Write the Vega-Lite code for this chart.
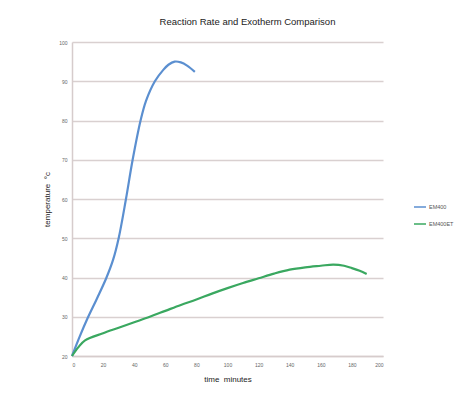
{
  "$schema": "https://vega.github.io/schema/vega-lite/v6.json",
  "width": 311,
  "height": 314,
  "autosize": {"type": "none"},
  "padding": {"left": 72, "top": 42, "right": 89, "bottom": 47},
  "background": "white",
  "title": {
    "text": "Reaction Rate and Exotherm Comparison",
    "fontSize": 9.5,
    "font": "Liberation Sans",
    "fontWeight": "normal",
    "color": "#222222",
    "anchor": "middle",
    "frame": "group",
    "offset": 14,
    "dx": 20
  },
  "data": {
    "values": [
      {"t": 0, "temp": 20, "series": "EM400"},
      {"t": 5, "temp": 25, "series": "EM400"},
      {"t": 10, "temp": 29.6, "series": "EM400"},
      {"t": 16, "temp": 34.6, "series": "EM400"},
      {"t": 22, "temp": 39.8, "series": "EM400"},
      {"t": 26.5, "temp": 44.6, "series": "EM400"},
      {"t": 30, "temp": 50, "series": "EM400"},
      {"t": 34.7, "temp": 60, "series": "EM400"},
      {"t": 39, "temp": 70, "series": "EM400"},
      {"t": 44.1, "temp": 80, "series": "EM400"},
      {"t": 47.6, "temp": 85, "series": "EM400"},
      {"t": 53.3, "temp": 90, "series": "EM400"},
      {"t": 58.7, "temp": 92.9, "series": "EM400"},
      {"t": 62, "temp": 94.2, "series": "EM400"},
      {"t": 66, "temp": 95, "series": "EM400"},
      {"t": 70, "temp": 94.8, "series": "EM400"},
      {"t": 74, "temp": 94, "series": "EM400"},
      {"t": 79, "temp": 92.4, "series": "EM400"},
      {"t": 0, "temp": 20, "series": "EM400ET"},
      {"t": 4, "temp": 22.2, "series": "EM400ET"},
      {"t": 8.4, "temp": 24, "series": "EM400ET"},
      {"t": 20, "temp": 25.8, "series": "EM400ET"},
      {"t": 30, "temp": 27.2, "series": "EM400ET"},
      {"t": 40, "temp": 28.6, "series": "EM400ET"},
      {"t": 50, "temp": 30, "series": "EM400ET"},
      {"t": 60, "temp": 31.5, "series": "EM400ET"},
      {"t": 70, "temp": 33, "series": "EM400ET"},
      {"t": 80, "temp": 34.4, "series": "EM400ET"},
      {"t": 90, "temp": 35.9, "series": "EM400ET"},
      {"t": 100, "temp": 37.3, "series": "EM400ET"},
      {"t": 110, "temp": 38.6, "series": "EM400ET"},
      {"t": 120, "temp": 39.8, "series": "EM400ET"},
      {"t": 130, "temp": 41, "series": "EM400ET"},
      {"t": 140, "temp": 42, "series": "EM400ET"},
      {"t": 150, "temp": 42.6, "series": "EM400ET"},
      {"t": 160, "temp": 43, "series": "EM400ET"},
      {"t": 168, "temp": 43.3, "series": "EM400ET"},
      {"t": 175, "temp": 43.0, "series": "EM400ET"},
      {"t": 180, "temp": 42.4, "series": "EM400ET"},
      {"t": 185, "temp": 41.7, "series": "EM400ET"},
      {"t": 189.5, "temp": 40.9, "series": "EM400ET"}
    ]
  },
  "mark": {"type": "line", "interpolate": "catmull-rom", "strokeWidth": 2.2},
  "encoding": {
    "x": {
      "field": "t",
      "type": "quantitative",
      "scale": {"domain": [0, 200], "nice": false},
      "axis": {
        "values": [0, 20, 40, 60, 80, 100, 120, 140, 160, 180, 200],
        "grid": false,
        "ticks": false,
        "domain": true,
        "domainColor": "#d6cccc",
        "domainWidth": 1.5,
        "labelFontSize": 5,
        "labelColor": "#666666",
        "labelPadding": 6,
        "title": "time\u00a0\u00a0minutes",
        "titleFontSize": 8,
        "titleFont": "Liberation Sans",
        "titleFontWeight": "normal",
        "titleColor": "#222222",
        "titlePadding": 8
      }
    },
    "y": {
      "field": "temp",
      "type": "quantitative",
      "scale": {"domain": [20, 100], "nice": false, "zero": false},
      "axis": {
        "values": [20, 30, 40, 50, 60, 70, 80, 90, 100],
        "grid": true,
        "gridColor": "#d9d0d0",
        "gridWidth": 1.5,
        "ticks": false,
        "domain": true,
        "domainColor": "#d6cccc",
        "domainWidth": 1.5,
        "labelFontSize": 5,
        "labelColor": "#666666",
        "labelPadding": 5,
        "title": "temperature\u00a0\u00a0°c",
        "titleFontSize": 8,
        "titleFont": "Liberation Sans",
        "titleFontWeight": "normal",
        "titleColor": "#222222",
        "titlePadding": 7
      }
    },
    "color": {
      "field": "series",
      "type": "nominal",
      "scale": {"domain": ["EM400", "EM400ET"], "range": ["#5b8fd0", "#3aa860"]},
      "legend": {
        "title": null,
        "orient": "none",
        "legendX": 341,
        "legendY": 158,
        "symbolType": "stroke",
        "symbolSize": 144,
        "symbolStrokeWidth": 1.5,
        "labelFontSize": 5.5,
        "labelColor": "#555555",
        "labelOffset": 2,
        "rowPadding": 6
      }
    }
  },
  "config": {"view": {"stroke": null}, "font": "Liberation Sans"}
}
